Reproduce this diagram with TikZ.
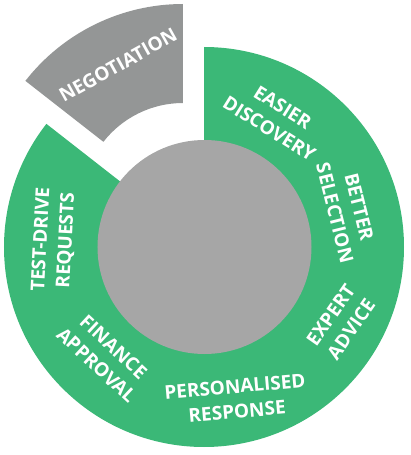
\documentclass[tikz,border=0pt]{standalone}
\usepackage{fontspec}
\setmainfont{Open Sans}
\definecolor{ringgreen}{RGB}{59,184,119}
\definecolor{neggray}{RGB}{148,150,150}
\definecolor{hubgray}{RGB}{166,166,166}
\begin{document}
\begin{tikzpicture}[x=1pt,y=1pt,
  lbl/.style={text=white,font=\fontsize{19}{25}\selectfont\bfseries,align=center,inner sep=0pt}]
\useasboundingbox (-204,-208) rectangle (206,247);
% green ring
\fill[ringgreen] (90:200) arc[start angle=90,end angle=-218,radius=200]
  -- (-218:101) arc[start angle=-218,end angle=90,radius=101] -- cycle;
% exploded negotiation sector
\begin{scope}[shift={(-21,43)}]
\fill[neggray] (90:200) arc[start angle=90,end angle=142,radius=200]
  -- (142:101) arc[start angle=142,end angle=90,radius=101] -- cycle;
\end{scope}
% hub
\fill[hubgray] (0.5,0) circle[radius=107];
% labels
\node[lbl,rotate=29] (neg) at (-86,182) {NEGOTIATION};
\node[lbl,rotate=-32] (disc) at (72,129) {EASIER\\DISCOVERY};
\node[lbl,rotate=-76] (sel) at (143,37) {BETTER\\SELECTION};
\node[lbl,rotate=55] (adv) at (137,-75) {EXPERT\\ADVICE};
\node[lbl,rotate=5] (resp) at (32,-152) {PERSONALISED\\RESPONSE};
\node[lbl,rotate=-43] (fin) at (-99,-109) {FINANCE\\APPROVAL};
\node[lbl,rotate=87] (test) at (-150,7) {TEST-DRIVE\\REQUESTS};
\end{tikzpicture}
\end{document}
